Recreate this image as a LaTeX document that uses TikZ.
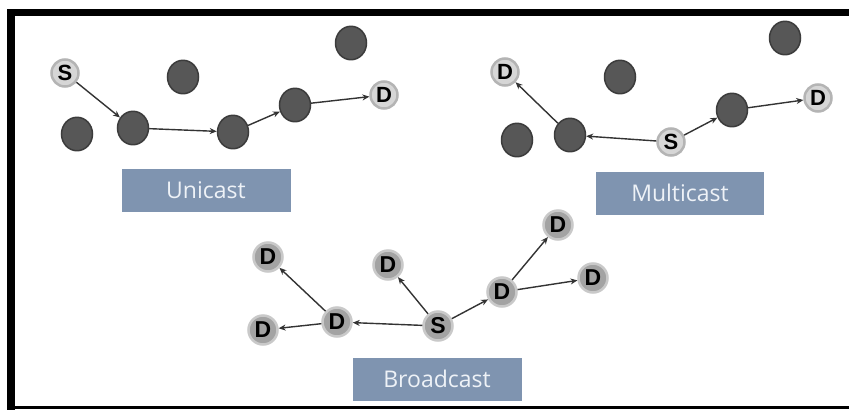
\documentclass[tikz,border=0pt]{standalone}
\usepackage{fontspec}
\setmainfont{Liberation Sans}
\newfontfamily\labelfont{Open Sans}
\usetikzlibrary{arrows.meta}
\definecolor{relay}{HTML}{575757}
\definecolor{relayedge}{HTML}{3C3C3C}
\definecolor{endfill}{HTML}{D6D6D6}
\definecolor{endedge}{HTML}{B4B4B4}
\definecolor{bcfill}{HTML}{A3A3A3}
\definecolor{bcedge}{HTML}{C9C9C9}
\definecolor{tagfill}{HTML}{7F94B0}
\definecolor{tagtext}{HTML}{EEF2F7}
\begin{document}
\begin{tikzpicture}[x=1pt,y=-1pt,
  relaynode/.style={circle,fill=relay,draw=relayedge,line width=1.5pt,
    minimum width=31pt,inner sep=0pt,yscale=1.08},
  endnode/.style={circle,fill=endfill,draw=endedge,line width=2.5pt,
    minimum size=27pt,inner sep=0pt,font=\bfseries\fontsize{22}{22}\selectfont},
  bcnode/.style={circle,fill=bcfill,draw=bcedge,line width=2.5pt,
    minimum size=29pt,inner sep=0pt,font=\bfseries\fontsize{23}{23}\selectfont},
  tag/.style={fill=tagfill,text=tagtext,minimum height=43pt,inner sep=0pt,
    font=\labelfont\fontsize{23}{23}\selectfont},
  link/.style={draw=black!80,line width=1.4pt,-{Stealth[length=7pt,width=6pt]}}]
\useasboundingbox (0,0) rectangle (849,410);
\fill[white] (0,0) rectangle (849,410);
% frame
\fill[black] (7,9) rectangle (849,16);
\fill[black] (7,9) rectangle (15,410);
\fill[black] (7,406) rectangle (849,409);

% Unicast
\node[relaynode] (u1) at (183,77) {};
\node[relaynode] (u2) at (351,43) {};
\node[relaynode] (u3) at (77,134) {};
\node[relaynode] (u4) at (133,128) {};
\node[relaynode] (u5) at (233,132) {};
\node[relaynode] (u6) at (295,105) {};
\node[endnode] (us) at (65,73) {S};
\node[endnode] (ud) at (384,95) {D};
\draw[link] (us) -- (u4);
\draw[link] (u4) -- (u5);
\draw[link] (u5) -- (u6);
\draw[link] (u6) -- (ud);
\node[tag,minimum width=169pt] (ut) at (206,190) {Unicast};

% Multicast
\node[relaynode] (m1) at (620,77) {};
\node[relaynode] (m2) at (785,38) {};
\node[relaynode] (m3) at (517,140) {};
\node[relaynode] (m4) at (570,135) {};
\node[relaynode] (m5) at (732,110) {};
\node[endnode] (ms) at (671,142) {S};
\node[endnode] (md1) at (505,72) {D};
\node[endnode] (md2) at (818,98) {D};
\draw[link] (ms) -- (m4);
\draw[link] (m4) -- (md1);
\draw[link] (ms) -- (m5);
\draw[link] (m5) -- (md2);
\node[tag,minimum width=168pt] (mt) at (680,193) {Multicast};

% Broadcast
\node[bcnode] (bs) at (438,326) {S};
\node[bcnode] (b1) at (268,257) {D};
\node[bcnode] (b2) at (263,330) {D};
\node[bcnode] (b3) at (337,322) {D};
\node[bcnode] (b4) at (388,265) {D};
\node[bcnode] (b5) at (502,292) {D};
\node[bcnode] (b6) at (558,225) {D};
\node[bcnode] (b7) at (593,278) {D};
\draw[link] (bs) -- (b3);
\draw[link] (b3) -- (b1);
\draw[link] (b3) -- (b2);
\draw[link] (bs) -- (b4);
\draw[link] (bs) -- (b5);
\draw[link] (b5) -- (b6);
\draw[link] (b5) -- (b7);
\node[tag,minimum width=169pt] (bt) at (437,379) {Broadcast};
\end{tikzpicture}
\end{document}
